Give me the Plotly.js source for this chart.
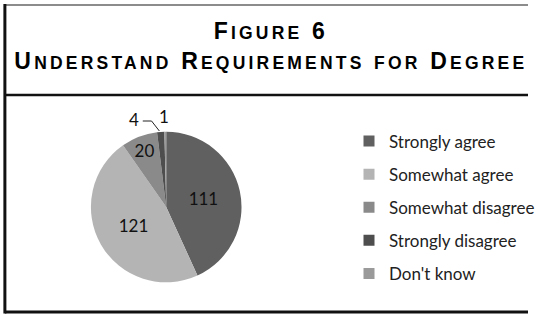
<!DOCTYPE html>
<html><head><meta charset="utf-8">
<script src="https://cdn.plot.ly/plotly-3.0.1.min.js"></script>
<style>html,body{margin:0;padding:0;background:#fff}</style>
</head><body>
<div id="chart" style="width:540px;height:316px"></div>
<script>
const categories = ["Strongly agree", "Somewhat agree", "Somewhat disagree", "Strongly disagree", "Don't know"];
const counts = [111, 121, 20, 4, 1];
const sliceColors = ["#606060", "#b4b4b4", "#8a8a8a", "#4e4e4e", "#9a9a9a"];
const titleLines = ["Figure 6", "Understand Requirements for Degree"];

const W = 540, H = 316;
const BIG = 23, SMALL = 17.5, LS = 3.2;

function smallCaps(line) {
  let out = '', run = '', runSmall = null;
  const flush = () => {
    if (run) out += '<span style="font-size:' + (runSmall ? SMALL : BIG) + 'px;letter-spacing:' + LS + 'px">' + run + '</span>';
    run = '';
  };
  for (const ch of line) {
    const isSmall = ch !== ch.toUpperCase();
    if (runSmall !== null && isSmall !== runSmall) flush();
    runSmall = isSmall;
    run += ch.toUpperCase();
  }
  flush();
  return out;
}

const px = v => v / W, py = v => 1 - v / H;

const traces = [{
  type: 'pie',
  labels: categories,
  values: counts,
  sort: false,
  direction: 'clockwise',
  rotation: 0,
  marker: {colors: sliceColors, line: {width: 0}},
  textinfo: 'value',
  textposition: ['inside', 'inside', 'inside', 'none', 'none'],
  insidetextorientation: 'horizontal',
  textfont: {family: 'Lato, sans-serif', size: 17, color: '#111'},
  showlegend: false,
  domain: {x: [px(93), px(247)], y: [py(284), py(130)]},
  hoverinfo: 'label+value'
}];
categories.forEach((c, i) => traces.push({
  type: 'scatter', x: [null], y: [null], mode: 'markers', name: c,
  legendgroup: 'g' + i,
  marker: {symbol: 'square', size: 11, color: sliceColors[i]},
  hoverinfo: 'skip'
}));

const line = (x0, y0, x1, y1, w, c) => ({type: 'line', xref: 'paper', yref: 'paper',
  x0: px(x0), y0: py(y0), x1: px(x1), y1: py(y1), line: {width: w, color: c}});

const smallLabel = (txt, x, y) => ({text: txt, xref: 'paper', yref: 'paper', x: px(x), y: py(y),
  xanchor: 'center', yanchor: 'middle', showarrow: false,
  font: {family: 'Lato, sans-serif', size: 17, color: '#111'}});

const layout = {
  width: W, height: H,
  margin: {l: 0, r: 0, t: 0, b: 0},
  paper_bgcolor: '#fff', plot_bgcolor: '#fff',
  title: {
    text: smallCaps(titleLines[0]) + '<br>' + smallCaps(titleLines[1]),
    font: {family: 'Liberation Sans, Arial, sans-serif', size: BIG, weight: 700, color: '#000'},
    x: px(277), xref: 'paper', xanchor: 'center',
    y: py(39), yref: 'container', yanchor: 'top'
  },
  xaxis: {visible: false}, yaxis: {visible: false},
  showlegend: true,
  legend: {
    x: px(357), xanchor: 'left', y: py(123.5), yanchor: 'top',
    font: {family: 'Lato, sans-serif', size: 17, color: '#222'},
    tracegroupgap: 8, bgcolor: 'rgba(0,0,0,0)', itemclick: false
  },
  annotations: [
    smallLabel(String(counts[3]), 137, 119),
    smallLabel(String(counts[4]), 168, 117)
  ],
  shapes: [
    line(5, 5, 540, 5, 2, '#8c8c8c'),
    line(5, 95, 540, 95, 2.5, '#111'),
    line(5, 312, 540, 312, 3, '#111'),
    line(5, 4, 5, 313.5, 3, '#111'),
    {type: 'path', xref: 'paper', yref: 'paper',
     path: 'M' + px(146) + ',' + py(121) + ' L' + px(155) + ',' + py(121) + ' L' + px(163) + ',' + py(131),
     line: {width: 1, color: '#222'}}
  ]
};

Plotly.newPlot('chart', traces, layout, {displayModeBar: false, staticPlot: true});
</script>
</body></html>
